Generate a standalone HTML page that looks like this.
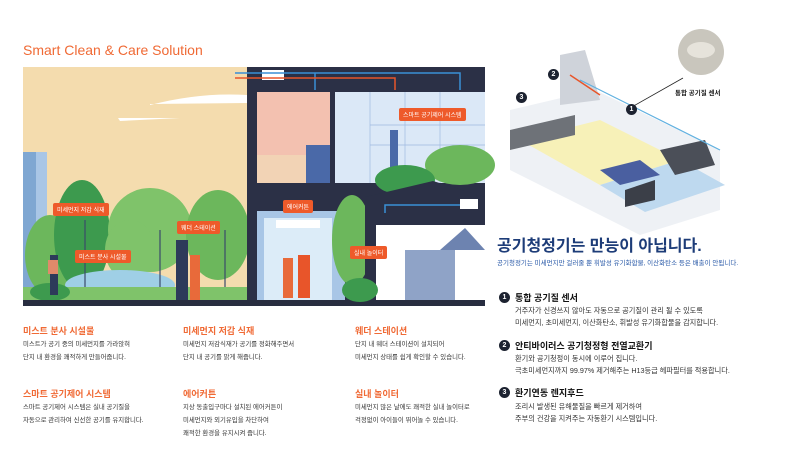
<!DOCTYPE html>
<html><head><meta charset="utf-8"><style>
*{margin:0;padding:0;box-sizing:border-box}
body{width:800px;height:465px;background:#fff;position:relative;overflow:hidden;font-family:"Liberation Sans","Noto Sans CJK KR",sans-serif}
.a{position:absolute;white-space:nowrap}
.h{color:#f06a35;font-size:9px;font-weight:bold}
.b{color:#333;font-size:6.4px;line-height:13px}
.tag{position:absolute;background:#ee5a2a;color:#fff;font-size:6px;padding:2px 4px;border-radius:2px;white-space:nowrap}
.rt{color:#111;font-size:9px;font-weight:bold}
.rb{color:#333;font-size:7.2px;line-height:12px}
.num{position:absolute;width:11px;height:11px;border-radius:50%;background:#1c2230;color:#fff;font-size:7px;text-align:center;line-height:11px;font-weight:bold}
</style></head><body>
<div class="a" style="left:23px;top:42px;color:#f06a35;font-size:14px">Smart Clean &amp; Care Solution</div>

<svg class="a" style="left:0;top:0" width="800" height="465">
<rect x="23" y="67" width="224" height="233" fill="#f4dcae"/>
<path d="M150 105 Q200 92 247 95 L247 103 L150 104Z" fill="#fff"/>
<path d="M118 118 L180 118 L120 121Z" fill="#fff"/>
<rect x="23" y="152" width="24" height="148" fill="#7fa7d2"/>
<rect x="36" y="152" width="11" height="148" fill="#a9c6e6"/>
<ellipse cx="50" cy="255" rx="25" ry="40" fill="#6cb75c"/>
<ellipse cx="82" cy="235" rx="28" ry="55" fill="#3d9a4e"/>
<ellipse cx="150" cy="230" rx="42" ry="42" fill="#7fc36a"/>
<ellipse cx="130" cy="250" rx="25" ry="30" fill="#7fc36a"/>
<ellipse cx="218" cy="235" rx="32" ry="45" fill="#6cb75c"/>
<ellipse cx="120" cy="285" rx="55" ry="15" fill="#9fcfe6"/>
<g stroke="#3a4a6a" stroke-width="1.2"><line x1="160" y1="230" x2="160" y2="300"/><line x1="85" y1="220" x2="85" y2="300"/><line x1="225" y1="230" x2="225" y2="300"/></g>
<rect x="23" y="287" width="224" height="13" fill="#7fc36a"/>
<ellipse cx="50" cy="292" rx="20" ry="9" fill="#3d9a4e"/>
<rect x="176" y="240" width="12" height="60" fill="#2d3a5a"/>
<rect x="190" y="255" width="10" height="45" fill="#e86a3a"/>
<rect x="50" y="255" width="8" height="40" fill="#2d3a5a"/>
<rect x="48" y="260" width="10" height="14" fill="#e08a6a"/>
<rect x="23" y="300" width="462" height="6" fill="#282d40"/>
<rect x="247" y="67" width="238" height="233" fill="#2b3046"/>
<rect x="257" y="92" width="73" height="91" fill="#f3c1b0"/>
<rect x="257" y="155" width="73" height="28" fill="#f2d3b5"/>
<rect x="306" y="145" width="24" height="38" fill="#4a69a8"/>
<rect x="335" y="92" width="150" height="91" fill="#dbe8f7"/>
<g stroke="#9fb9e0" stroke-width="0.7">
<line x1="370" y1="92" x2="370" y2="183"/><line x1="405" y1="92" x2="405" y2="183"/><line x1="440" y1="92" x2="440" y2="183"/>
<line x1="370" y1="125" x2="485" y2="125"/><line x1="370" y1="145" x2="485" y2="145"/>
</g>
<rect x="390" y="130" width="8" height="45" fill="#4a69a8"/>
<ellipse cx="460" cy="165" rx="35" ry="20" fill="#6cb75c"/>
<ellipse cx="405" cy="180" rx="30" ry="15" fill="#3d9a4e"/>
<rect x="262" y="70" width="22" height="10" fill="#fff"/>
<path d="M235 73 L460 73 L460 90" stroke="#3a8fd6" stroke-width="1.5" fill="none"/>
<path d="M315 73 L315 90" stroke="#3a8fd6" stroke-width="1.5"/>
<path d="M235 78 L395 78 L395 90" stroke="#e8552a" stroke-width="1.5" fill="none"/>
<rect x="257" y="211" width="88" height="89" fill="#a8c6e6"/>
<rect x="264" y="218" width="68" height="82" fill="#dcecf8"/>
<rect x="276" y="220" width="44" height="8" fill="#fff"/>
<rect x="283" y="258" width="10" height="40" fill="#e86a3a"/>
<rect x="298" y="255" width="12" height="43" fill="#e8552a"/>
<ellipse cx="352" cy="240" rx="20" ry="45" fill="#6cb75c"/>
<path d="M365 197 L433 181 L485 197 L485 300 L365 300Z" fill="#2b3046"/>
<rect x="376" y="225" width="109" height="75" fill="#fff"/>
<rect x="405" y="250" width="50" height="50" fill="#8fa3c7"/>
<path d="M440 250 L465 228 L485 250Z" fill="#6d83b0"/>
<path d="M385 213 L385 205 L460 205" stroke="#3a8fd6" stroke-width="1.5" fill="none"/>
<rect x="460" y="199" width="18" height="10" fill="#fff"/>
<ellipse cx="360" cy="290" rx="18" ry="12" fill="#3d9a4e"/>
<path d="M510 110 L595 90 L720 150 L720 210 L640 235 L510 170Z" fill="#eef1f5"/>
<path d="M520 140 L600 120 L680 160 L600 185Z" fill="#f7f1b8"/>
<path d="M600 185 L680 160 L725 185 L645 212Z" fill="#bed9ef"/>
<path d="M510 130 L575 115 L575 135 L510 150Z" fill="#6e7278"/>
<path d="M560 55 L585 50 L600 100 L560 105Z" fill="#cfd3da"/>
<path d="M660 150 L705 140 L715 165 L675 175Z" fill="#4b4f58"/>
<path d="M600 170 L640 160 L660 175 L620 185Z" fill="#4a5fa0"/>
<path d="M625 190 L655 180 L655 200 L625 207Z" fill="#3b3f48"/>
<path d="M580 80 L720 150" stroke="#5fb0e0" stroke-width="1.2"/>
<path d="M570 75 L600 95" stroke="#e8552a" stroke-width="1.5"/>
<circle cx="701" cy="52" r="23" fill="#c9c6bd"/>
<ellipse cx="701" cy="50" rx="14" ry="8" fill="#e6e3db"/>
<line x1="630" y1="108" x2="683" y2="78" stroke="#222" stroke-width="0.8"/>
</svg>

<div class="num" style="left:626px;top:104px">1</div>
<div class="num" style="left:548px;top:69px">2</div>
<div class="num" style="left:516px;top:92px">3</div>
<div class="a" style="left:675px;top:87px;font-size:6.5px;font-weight:bold;color:#222">통합 공기질 센서</div>

<div class="tag" style="left:53px;top:203px">미세먼지 저감 식재</div>
<div class="tag" style="left:75px;top:250px">미스트 분사 시설물</div>
<div class="tag" style="left:177px;top:221px">웨더 스테이션</div>
<div class="tag" style="left:283px;top:200px">에어커튼</div>
<div class="tag" style="left:399px;top:108px">스마트 공기제어 시스템</div>
<div class="tag" style="left:350px;top:246px">실내 놀이터</div>

<div class="a h" style="left:23px;top:324px">미스트 분사 시설물</div>
<div class="a b" style="left:23px;top:338px">미스트가 공기 중의 미세먼지를 가라앉혀<br>단지 내 환경을 쾌적하게 만들어줍니다.</div>
<div class="a h" style="left:183px;top:324px">미세먼지 저감 식재</div>
<div class="a b" style="left:183px;top:338px">미세먼지 저감식재가 공기를 정화해주면서<br>단지 내 공기를 맑게 해줍니다.</div>
<div class="a h" style="left:355px;top:324px">웨더 스테이션</div>
<div class="a b" style="left:355px;top:338px">단지 내 웨더 스테이션이 설치되어<br>미세먼지 상태를 쉽게 확인할 수 있습니다.</div>
<div class="a h" style="left:23px;top:387px">스마트 공기제어 시스템</div>
<div class="a b" style="left:23px;top:401px">스마트 공기제어 시스템은 실내 공기질을<br>자동으로 관리하여 신선한 공기를 유지합니다.</div>
<div class="a h" style="left:183px;top:387px">에어커튼</div>
<div class="a b" style="left:183px;top:401px">지상 동출입구마다 설치된 에어커튼이<br>미세먼지와 외기유입을 차단하여<br>쾌적한 환경을 유지시켜 줍니다.</div>
<div class="a h" style="left:355px;top:387px">실내 놀이터</div>
<div class="a b" style="left:355px;top:401px">미세먼지 많은 날에도 쾌적한 실내 놀이터로<br>걱정없이 아이들이 뛰어놀 수 있습니다.</div>

<div class="a" style="left:497px;top:232px;font-size:16px;font-weight:bold;color:#1d3c78">공기청정기는 만능이 아닙니다.</div>
<div class="a" style="left:497px;top:257px;font-size:6.5px;color:#2a5aa8">공기청정기는 미세먼지만 걸러줄 뿐 휘발성 유기화합물, 이산화탄소 등은 배출이 안됩니다.</div>

<div class="num" style="left:499px;top:292px">1</div>
<div class="a rt" style="left:515px;top:291px">통합 공기질 센서</div>
<div class="a rb" style="left:515px;top:305px">거주자가 신경쓰지 않아도 자동으로 공기질이 관리 될 수 있도록<br>미세먼지, 초미세먼지, 이산화탄소, 휘발성 유기화합물을 감지합니다.</div>
<div class="num" style="left:499px;top:340px">2</div>
<div class="a rt" style="left:515px;top:339px">안티바이러스 공기청정형 전열교환기</div>
<div class="a rb" style="left:515px;top:353px">환기와 공기청정이 동시에 이루어 집니다.<br>극초미세먼지까지 99.97% 제거해주는 H13등급 헤파필터를 적용합니다.</div>
<div class="num" style="left:499px;top:387px">3</div>
<div class="a rt" style="left:515px;top:386px">환기연동 렌지후드</div>
<div class="a rb" style="left:515px;top:401px">조리시 발생된 유해물질을 빠르게 제거하여<br>주부의 건강을 지켜주는 자동환기 시스템입니다.</div>
</body></html>
